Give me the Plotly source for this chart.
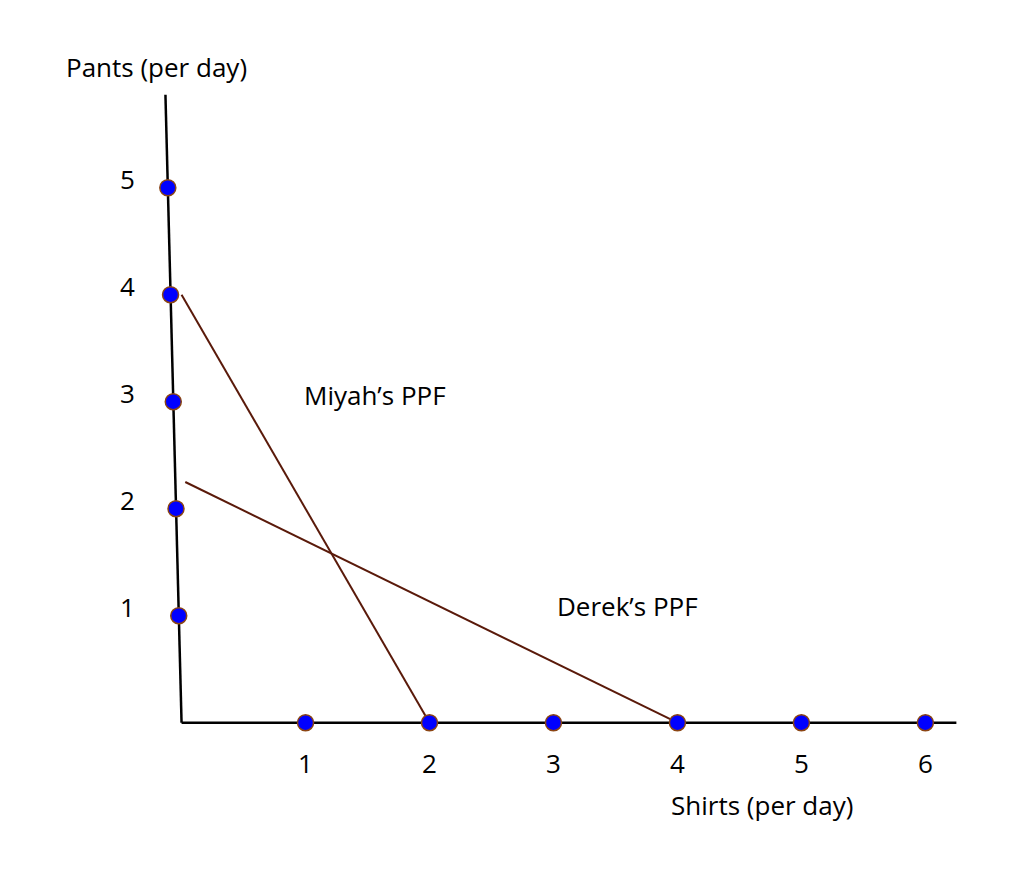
import plotly.graph_objects as go

# axis dots
shirt_ticks = [1, 2, 3, 4, 5, 6]
pant_ticks = [1, 2, 3, 4, 5]

# PPF lines (shirts, pants)
miyah_x = [0, 2]
miyah_y = [4, 0]
derek_x = [0.03, 4]
derek_y = [2.25, 0]

line_col = '#5a1a0a'
font = dict(family='Open Sans', size=26, color='black')

fig = go.Figure()

# axes (y axis drawn slightly slanted like the original)
fig.add_trace(go.Scatter(x=[-0.13, 0], y=[5.87, 0], mode='lines',
                         line=dict(color='black', width=2.5), hoverinfo='none'))
fig.add_trace(go.Scatter(x=[0, 6.25], y=[0, 0], mode='lines',
                         line=dict(color='black', width=2.5), hoverinfo='none'))

fig.add_trace(go.Scatter(x=miyah_x, y=miyah_y, mode='lines',
                         line=dict(color=line_col, width=2), hoverinfo='none'))
fig.add_trace(go.Scatter(x=derek_x, y=derek_y, mode='lines',
                         line=dict(color=line_col, width=2), hoverinfo='none'))

dot = dict(color='#0000ff', size=16, line=dict(color='#8b4513', width=1.5))
fig.add_trace(go.Scatter(x=shirt_ticks, y=[0] * len(shirt_ticks), mode='markers',
                         marker=dot, cliponaxis=False, hoverinfo='none'))
fig.add_trace(go.Scatter(x=[-0.13 + 0.022 * (5.87 - p) for p in pant_ticks],
                         y=pant_ticks, mode='markers',
                         marker=dot, cliponaxis=False, hoverinfo='none'))

annotations = []
for s in shirt_ticks:
    annotations.append(dict(x=s, y=-0.38, text=str(s), showarrow=False, font=font))
for p in pant_ticks:
    annotations.append(dict(x=-0.44, y=p + 0.08, text=str(p), showarrow=False, font=font))
annotations += [
    dict(x=1.56, y=3.06, text="Miyah’s PPF", showarrow=False, font=font),
    dict(x=3.6, y=1.09, text="Derek’s PPF", showarrow=False, font=font),
    dict(x=-0.2, y=6.13, text="Pants (per day)", showarrow=False, font=font),
    dict(x=4.68, y=-0.77, text="Shirts (per day)", showarrow=False, font=font),
]

fig.update_layout(
    width=1024, height=872,
    margin=dict(l=0, r=0, t=0, b=0),
    paper_bgcolor='white', plot_bgcolor='white',
    showlegend=False,
    annotations=annotations,
    xaxis=dict(range=[-1.40, 6.86], visible=False),
    yaxis=dict(range=[-1.47, 6.68], visible=False),
)
for a in fig.layout.annotations:
    a.update(xref='x', yref='y')

fig.write_html("out.html")
